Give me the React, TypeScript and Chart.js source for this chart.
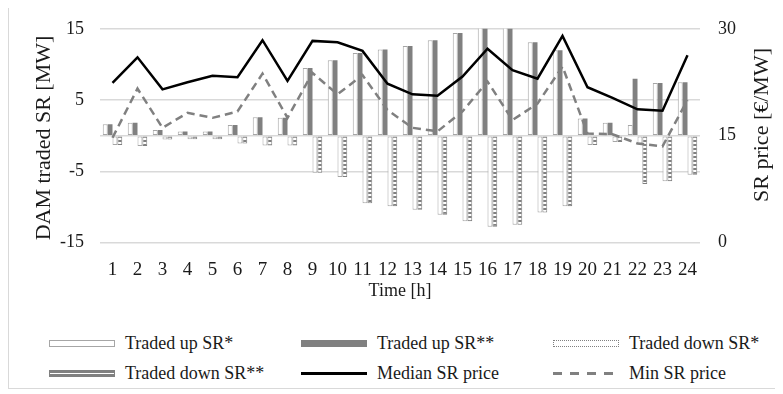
import React, { useEffect, useRef } from 'react';
import { Chart, registerables } from 'chart.js';

Chart.register(...registerables);

// ---------- data ----------
const hours = ['1','2','3','4','5','6','7','8','9','10','11','12','13','14','15','16','17','18','19','20','21','22','23','24'];
const seriesNames = ['Traded up SR*', 'Traded up SR**', 'Traded down SR*', 'Traded down SR**', 'Median SR price', 'Min SR price'];
const tradedUpStar = [1.6, 1.8, 0.8, 0.6, 0.6, 1.5, 2.6, 2.5, 9.5, 10.6, 11.6, 12.1, 12.6, 13.4, 14.4, 15.4, 15.4, 13.1, 12.0, 2.4, 1.8, 1.5, 7.4, 7.5];
const tradedUpStarStar = [1.6, 1.8, 0.8, 0.6, 0.6, 1.5, 2.6, 2.5, 9.5, 10.6, 11.6, 12.1, 12.6, 13.4, 14.4, 15.4, 15.4, 13.1, 12.0, 2.4, 1.8, 8.0, 7.4, 7.5];
const tradedDownStar = [-1.3, -1.45, -0.55, -0.5, -0.5, -1.1, -1.4, -1.4, -5.2, -5.8, -9.5, -9.9, -10.4, -11.1, -12.0, -12.8, -12.5, -10.8, -9.9, -1.3, -0.9, -1.1, -6.4, -5.5];
const tradedDownStarStar = [-1.3, -1.45, -0.55, -0.5, -0.5, -1.1, -1.4, -1.4, -5.2, -5.8, -9.5, -9.9, -10.4, -11.1, -12.0, -12.8, -12.5, -10.8, -9.9, -1.3, -0.9, -6.8, -6.4, -5.5];
const medianPrice = [22.4, 26.0, 21.5, 22.5, 23.4, 23.2, 28.4, 22.7, 28.3, 28.1, 26.9, 22.3, 20.8, 20.6, 23.3, 27.2, 24.2, 23.0, 29.0, 21.8, 20.3, 18.7, 18.5, 26.3];
const minPrice = [14.7, 21.6, 16.1, 18.2, 17.5, 18.4, 23.7, 17.5, 23.8, 20.8, 23.5, 18.6, 16.1, 15.6, 18.4, 22.6, 17.2, 19.5, 24.7, 15.3, 15.2, 13.9, 13.5, 20.0];
const leftTicks = [-15, -5, 0, 5, 15];
const rightTicks = [0, 15, 30];
const xTitle = 'Time [h]';
const leftTitle = 'DAM traded SR [MW]';
const rightTitle = 'SR price [€/MW]';

// ---------- style ----------
const FONT = '"Liberation Serif", "Times New Roman", serif';
const TEXT = '#1a1a1a';
const GRID = '#d9d9d9';
const GRAY = '#808080';
const LIGHT = '#a6a6a6';
const CW = 768;
const CH = 310;

const legendSwatches: React.CSSProperties[] = [
  { height: 7, background: '#fff', border: `1px solid ${LIGHT}`, boxSizing: 'border-box' },
  { height: 7, background: GRAY, boxSizing: 'border-box' },
  { height: 7, background: '#fff', border: `1px dotted ${GRAY}`, boxSizing: 'border-box' },
  { height: 7, background: `linear-gradient(${GRAY} 0 2px, #fff 2px 3px, ${GRAY} 3px 5px)`, border: `1px solid ${GRAY}`, boxSizing: 'border-box' },
  { height: 3, background: '#000' },
  { height: 3, background: `repeating-linear-gradient(90deg, ${GRAY} 0 9px, transparent 9px 17px)` },
];

export default function App() {
  const ref = useRef<HTMLCanvasElement>(null);

  useEffect(() => {
    const canvas = ref.current!;
    const tile = document.createElement('canvas');
    tile.width = 4;
    tile.height = 4;
    const tctx = tile.getContext('2d')!;
    tctx.fillStyle = GRAY;
    tctx.fillRect(0, 0, 4, 4);
    tctx.fillStyle = '#ffffff';
    tctx.fillRect(0, 2, 4, 2);
    const pattern = canvas.getContext('2d')!.createPattern(tile, 'repeat')!;

    const titlesPlugin = {
      id: 'verticalTitles',
      afterDraw(chart: any) {
        const { ctx, chartArea } = chart;
        ctx.save();
        ctx.fillStyle = TEXT;
        ctx.font = `22px ${FONT}`;
        ctx.textAlign = 'center';
        ctx.textBaseline = 'middle';
        ctx.save();
        ctx.translate(chartArea.left - 56, 138);
        ctx.rotate(-Math.PI / 2);
        ctx.fillText(leftTitle, 0, 0);
        ctx.restore();
        ctx.save();
        ctx.translate(chartArea.right + 62, 125);
        ctx.rotate(-Math.PI / 2);
        ctx.fillText(rightTitle, 0, 0);
        ctx.restore();
        ctx.restore();
      },
    };

    const barCommon = { type: 'bar' as const, yAxisID: 'y', order: 2, clip: 0, borderSkipped: false as const };

    const chart = new Chart(canvas, {
      type: 'bar',
      data: {
        labels: hours,
        datasets: [
          { ...barCommon, label: seriesNames[0], data: tradedUpStar, backgroundColor: '#ffffff', borderColor: LIGHT, borderWidth: 1 },
          { ...barCommon, label: seriesNames[1], data: tradedUpStarStar, backgroundColor: GRAY, borderColor: GRAY, borderWidth: 0 },
          { ...barCommon, label: seriesNames[2], data: tradedDownStar, backgroundColor: '#ffffff', borderColor: LIGHT, borderWidth: 1 },
          { ...barCommon, label: seriesNames[3], data: tradedDownStarStar, backgroundColor: pattern, borderColor: GRAY, borderWidth: 1 },
          { type: 'line', label: seriesNames[4], data: medianPrice, yAxisID: 'y1', order: 0, borderColor: '#000', borderWidth: 2.5, pointRadius: 0, tension: 0, fill: false },
          { type: 'line', label: seriesNames[5], data: minPrice, yAxisID: 'y1', order: 1, borderColor: GRAY, borderWidth: 2.5, borderDash: [8, 5], pointRadius: 0, tension: 0, fill: false },
        ] as any,
      },
      options: {
        responsive: false,
        animation: false,
        devicePixelRatio: 1,
        layout: { padding: { left: 0, right: 0, top: 20.5, bottom: 0 } },
        datasets: { bar: { categoryPercentage: 0.78, barPercentage: 1.0 } },
        plugins: { legend: { display: false }, tooltip: { enabled: false } },
        scales: {
          x: {
            grid: { display: false },
            border: { display: false },
            ticks: { color: TEXT, font: { family: FONT, size: 19 }, padding: 8, maxRotation: 0, autoSkip: false },
            title: { display: true, text: xTitle, color: TEXT, font: { family: FONT, size: 18 }, padding: { top: 0, bottom: 8 } },
            afterFit: (s: any) => { s.height = 67.5; },
          },
          y: {
            position: 'left',
            min: -15,
            max: 15,
            afterBuildTicks: (s: any) => { s.ticks = leftTicks.map((v) => ({ value: v })); },
            grid: { color: GRID, lineWidth: 1.5, drawTicks: false },
            border: { display: false },
            ticks: {
              color: TEXT,
              font: { family: FONT, size: 18 },
              padding: 16,
              callback: (v: any) => (Number(v) === 0 ? '' : String(v)),
            },
            afterFit: (s: any) => { s.width = 91; },
          },
          y1: {
            position: 'right',
            min: 0,
            max: 30,
            afterBuildTicks: (s: any) => { s.ticks = rightTicks.map((v) => ({ value: v })); },
            grid: { display: false, drawTicks: false },
            border: { display: false },
            ticks: { color: TEXT, font: { family: FONT, size: 18 }, padding: 18 },
            afterFit: (s: any) => { s.width = CW - 691; },
          },
        },
      },
      plugins: [titlesPlugin],
    });
    return () => chart.destroy();
  }, []);

  const colX = [40, 292, 544];
  const rowY = [343, 373];

  return (
    <div
      style={{
        position: 'relative',
        marginTop: -8,
        width: 770,
        height: 389,
        boxSizing: 'border-box',
        borderLeft: `1px solid ${GRID}`,
        borderRight: `1px solid ${GRID}`,
        borderBottom: `1.5px solid ${GRID}`,
        fontFamily: FONT,
        color: TEXT,
      }}
    >
      <canvas ref={ref} width={CW} height={CH} style={{ position: 'absolute', left: 0, top: 0, width: CW, height: CH }} />
      {seriesNames.map((name, i) => {
        const col = i % 3;
        const row = Math.floor(i / 3);
        return (
          <div
            key={name}
            style={{
              position: 'absolute',
              left: colX[col],
              top: rowY[row] - 12,
              height: 24,
              display: 'flex',
              alignItems: 'center',
              whiteSpace: 'nowrap',
              fontSize: 18,
            }}
          >
            <div style={{ width: 66, ...legendSwatches[i] }} />
            <span style={{ marginLeft: 10 }}>{name}</span>
          </div>
        );
      })}
    </div>
  );
}
